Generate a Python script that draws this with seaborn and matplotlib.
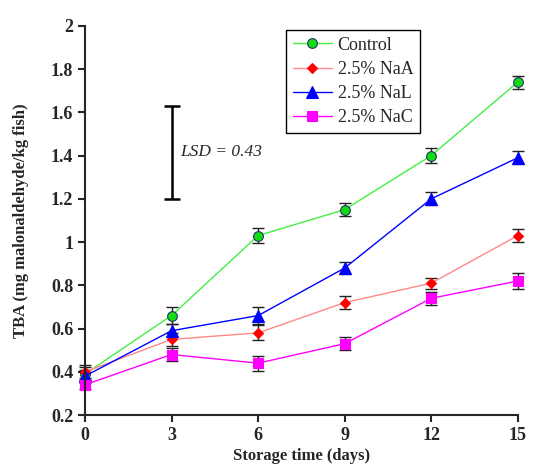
import numpy as np
import pandas as pd
import seaborn as sns
import matplotlib.pyplot as plt

days = [0, 3, 6, 9, 12, 15]
control = [0.39, 0.66, 1.03, 1.15, 1.40, 1.74]
naa = [0.40, 0.55, 0.58, 0.72, 0.81, 1.03]
nal = [0.38, 0.59, 0.66, 0.88, 1.20, 1.39]
nac = [0.34, 0.48, 0.44, 0.53, 0.74, 0.82]
control_err = [0.03, 0.04, 0.035, 0.03, 0.035, 0.03]
naa_err = [0.03, 0.03, 0.035, 0.03, 0.025, 0.03]
nal_err = [0.03, 0.03, 0.04, 0.03, 0.03, 0.03]
nac_err = [0.02, 0.03, 0.035, 0.03, 0.03, 0.035]
labels = ["Control", "2.5% NaA", "2.5% NaL", "2.5% NaC"]
lsd = 0.43

sns.set_style("ticks")
plt.rcParams['font.family'] = ['Liberation Serif', 'DejaVu Serif']

fig = plt.figure(figsize=(5.48, 4.69), dpi=100)
ax = fig.add_axes([0.155, 0.115, 0.79, 0.83])

series = [
    (control, control_err, "#44ee44", "o", "#11dd11", "#223366", 7),
    (naa, naa_err, "#ff8888", "D", "#ff0000", "#ff0000", 5.5),
    (nal, nal_err, "#0000ff", "^", "#0000ff", "#0000ff", 8),
    (nac, nac_err, "#ff00ff", "s", "#ff00ff", "#ff00ff", 7),
]

for (vals, err, lc, mk, fc, ec, ms), lab in zip(series, labels):
    df = pd.DataFrame({"day": days, "tba": vals})
    ax.errorbar(days, vals, yerr=err, fmt="none", ecolor="#222222",
                elinewidth=1, capsize=4, capthick=1, zorder=2, clip_on=False)
    sns.lineplot(data=df, x="day", y="tba", ax=ax, color=lc, lw=1,
                 marker=mk, markersize=ms, markerfacecolor=fc,
                 markeredgecolor=ec, markeredgewidth=0.8, label=lab,
                 zorder=3, clip_on=False)

# LSD bar
ax.errorbar([3], [1.2 + lsd / 2], yerr=[lsd / 2], fmt="none", ecolor="black",
            elinewidth=1.8, capsize=6, capthick=1.8)
ax.text(3.3, 1.415, "LSD = 0.43", style="italic", fontsize=12.5, va="center")

ax.set_xlim(0, 15)
ax.set_ylim(0.2, 2.0)
ax.set_xticks(days)
ax.set_yticks(np.arange(0.2, 2.01, 0.2))
ax.set_yticklabels(["0.2", "0.4", "0.6", "0.8", "1", "1.2", "1.4", "1.6", "1.8", "2"])
ax.tick_params(axis="both", labelsize=13, width=1.5, length=5, direction="out")
for t in ax.get_xticklabels() + ax.get_yticklabels():
    t.set_fontweight("bold")
for s in ["top", "right"]:
    ax.spines[s].set_visible(False)
for s in ["left", "bottom"]:
    ax.spines[s].set_linewidth(1.5)
    ax.spines[s].set_zorder(5)

ax.set_xlabel("Storage time (days)", fontsize=12, fontweight="bold", labelpad=3)
ax.set_ylabel("TBA (mg malonaldehyde/kg fish)", fontsize=12, fontweight="bold", labelpad=16)

leg = ax.legend(loc="upper left", bbox_to_anchor=(0.465, 0.988), borderaxespad=0,
                fontsize=13, frameon=True, fancybox=False, edgecolor="black",
                framealpha=1, handlelength=2.2, borderpad=0.35, labelspacing=0.4,
                handletextpad=0.3)
leg.get_frame().set_linewidth(1)

fig.savefig("out.png", dpi=100)
